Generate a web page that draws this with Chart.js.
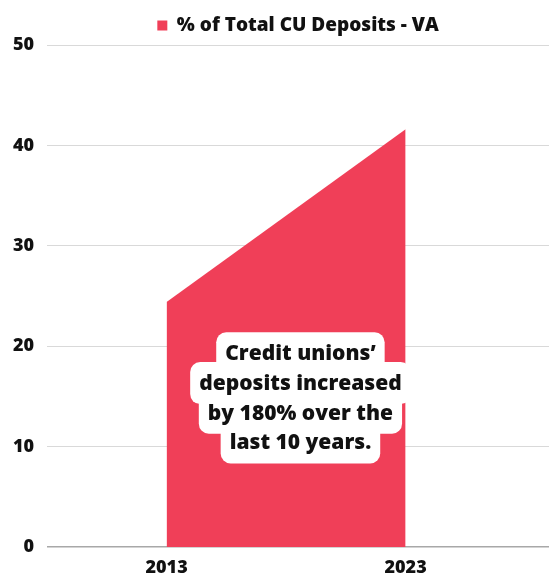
<!DOCTYPE html>
<html>
<head>
<meta charset="utf-8">
<script src="https://cdn.jsdelivr.net/npm/chart.js@4.4.0/dist/chart.umd.min.js"></script>
<style>
  body { margin: 0; background: #fff; }
  #wrap { width: 549px; height: 581px; }
</style>
</head>
<body>
<div id="wrap"><canvas id="depositsChart" width="549" height="581"></canvas></div>
<script>
const years = [2013, 2023];
const depositShare = [24.4, 41.6];
const yTicks = [0, 10, 20, 30, 40, 50];
const seriesLabel = '% of Total CU Deposits - VA';
const noteLines = ['Credit unions\u2019', 'deposits increased', 'by 180% over the', 'last 10 years.'];

const areaColor = '#f03f58';
const fontFamily = '"Open Sans", Lato, sans-serif';

// white rounded label boxes behind the note, one per line
const notePlugin = {
    id: 'note',
    afterDatasetsDraw(chart) {
        const ctx = chart.ctx;
        const x = chart.scales.x.getPixelForValue(2018.6);
        const yMid = chart.scales.y.getPixelForValue(14.85);
        const lineH = 29.7;
        const top = yMid - lineH * (noteLines.length - 1) / 2;
        ctx.save();
        ctx.font = '800 21px ' + fontFamily;
        ctx.textAlign = 'center';
        ctx.textBaseline = 'middle';
        ctx.fillStyle = '#fff';
        noteLines.forEach((line, i) => {
            const w = ctx.measureText(line).width + 18;
            const cy = top + i * lineH;
            ctx.beginPath();
            ctx.roundRect(x - w / 2, cy - 21, w, 42, 10);
            ctx.fill();
        });
        ctx.fillStyle = '#111';
        noteLines.forEach((line, i) => {
            ctx.fillText(line, x, top + i * lineH + 1);
        });
        ctx.restore();
    }
};

new Chart(document.getElementById('depositsChart'), {
    type: 'line',
    data: {
        datasets: [{
            label: seriesLabel,
            data: years.map((yr, i) => ({ x: yr, y: depositShare[i] })),
            backgroundColor: areaColor,
            borderColor: areaColor,
            borderWidth: 0,
            pointRadius: 0,
            fill: 'origin',
            tension: 0
        }]
    },
    options: {
        responsive: false,
        animation: false,
        layout: { padding: { left: 0, right: 0, top: 4, bottom: 0 } },
        plugins: {
            legend: {
                fullSize: false,
                labels: {
                    color: '#111',
                    boxWidth: 10,
                    boxHeight: 10,
                    padding: 12,
                    font: { family: fontFamily, size: 19, weight: '800' }
                }
            },
            tooltip: { enabled: false }
        },
        scales: {
            x: {
                type: 'linear',
                min: 2008,
                max: 2029,
                afterBuildTicks: axis => { axis.ticks = years.map(v => ({ value: v })); },
                grid: { display: false },
                border: { display: false },
                ticks: {
                    color: '#111',
                    padding: 4,
                    maxRotation: 0,
                    callback: v => String(v),
                    font: { family: fontFamily, size: 18, weight: '800', lineHeight: 1.0 }
                }
            },
            y: {
                min: 0,
                max: 50,
                afterBuildTicks: axis => { axis.ticks = yTicks.map(v => ({ value: v })); },
                grid: {
                    drawTicks: false,
                    color: c => c.tick && c.tick.value === 0 ? '#a8a8a8' : '#d9d9d9',
                    lineWidth: c => c.tick && c.tick.value === 0 ? 1.5 : 1
                },
                border: { display: false },
                ticks: {
                    color: '#111',
                    padding: 13,
                    font: { family: fontFamily, size: 18, weight: '800' }
                }
            }
        }
    },
    plugins: [notePlugin]
});
</script>
</body>
</html>
